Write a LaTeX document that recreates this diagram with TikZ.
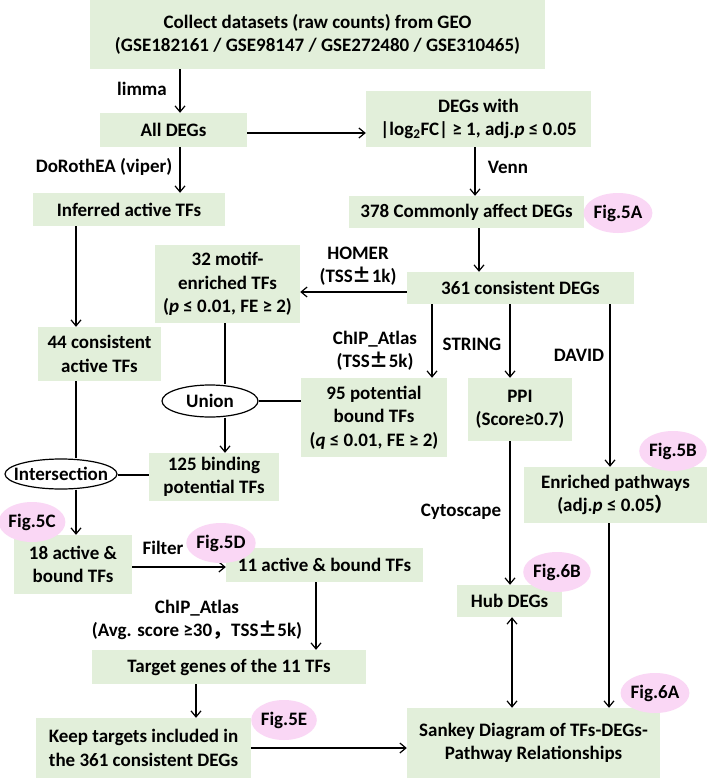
\documentclass[tikz,border=0pt]{standalone}
\usepackage{fontspec}
\setmainfont{Carlito}
\newfontfamily\cjk{Noto Sans CJK SC}
\usetikzlibrary{arrows.meta,shapes.geometric}
\definecolor{boxgreen}{RGB}{226,239,218}
\definecolor{figpink}{RGB}{250,215,245}
\begin{document}
\begin{tikzpicture}[x=1pt,y=-1pt,
  every node/.style={font=\fontsize{19}{23.5}\selectfont\bfseries},
  box/.style={fill=boxgreen, draw=none, align=center, inner sep=0pt},
  oval/.style={ellipse, draw, line width=1.2pt, fill=white, inner sep=0pt},
  fig/.style={ellipse, fill=figpink, inner sep=0pt, minimum width=64pt, minimum height=40pt},
  arr/.style={line width=1.2pt, -{Straight Barb[length=6pt,width=10pt]}},
  dbl/.style={line width=1.2pt, {Straight Barb[length=6pt,width=10pt]}-{Straight Barb[length=6pt,width=10pt]}},
  ln/.style={line width=1.2pt},
  lbl/.style={align=center, inner sep=0pt}]
\useasboundingbox (0,0) rectangle (709,778);
\fill[white] (0,0) rectangle (709,778);

% boxes
\node[box, minimum width=455pt, minimum height=69pt] (top) at (317.5,34.5) {Collect datasets (raw counts) from GEO\\(GSE182161 / GSE98147 / GSE272480 / GSE310465)};
\node[box, minimum width=147pt, minimum height=34pt] (alldegs) at (173.5,130) {All DEGs};
\node[box, minimum width=225pt, minimum height=56pt] (degswith) at (478.5,119) {DEGs with\\\textbar log\textsubscript{2}FC\textbar{} ≥ 1, adj.\textit{p} ≤ 0.05};
\node[box, minimum width=192pt, minimum height=33pt] (inferred) at (129,209.5) {Inferred active TFs};
\node[box, minimum width=235pt, minimum height=32pt] (c378) at (466.5,212) {378 Commonly affect DEGs};
\node[box, minimum width=227pt, minimum height=32pt] (c361) at (520.5,288) {361 consistent DEGs};
\node[box, minimum width=145pt, minimum height=78pt] (motif) at (227.5,284) {32 motif-\\enriched TFs\\(\textit{p} ≤ 0.01, FE ≥ 2)};
\node[box, minimum width=123pt, minimum height=54pt] (c44) at (99.5,354) {44 consistent\\active TFs};
\node[box, minimum width=146pt, minimum height=79pt] (c95) at (374,417.5) {95 potential\\bound TFs\\(\textit{q} ≤ 0.01, FE ≥ 2)};
\node[box, minimum width=104pt, minimum height=63pt] (ppi) at (520,409.5) {PPI\\(Score≥0.7)};
\node[box, minimum width=130pt, minimum height=48pt] (c125) at (214,477) {125 binding\\potential TFs};
\node[box, minimum width=183pt, minimum height=56pt] (enriched) at (615.5,495) {Enriched pathways\\(adj.\textit{p} ≤ 0.05{\cjk ）}};
\node[box, minimum width=118pt, minimum height=59pt] (c18) at (73,564.5) {18 active \&\\bound TFs};
\node[box, minimum width=197pt, minimum height=34pt] (c11) at (324.5,565) {11 active \& bound TFs};
\node[box, minimum width=105pt, minimum height=32pt] (hub) at (509.5,601) {Hub DEGs};
\node[box, minimum width=274pt, minimum height=34pt] (target) at (229,667) {Target genes of the 11 TFs};
\node[box, minimum width=215pt, minimum height=60pt] (keep) at (143.5,748) {Keep targets included in\\the 361 consistent DEGs};
\node[box, minimum width=253pt, minimum height=70pt] (sankey) at (533.5,743) {Sankey Diagram of TFs-DEGs-\\Pathway Relationships};

% ovals
\node[oval, minimum width=96pt, minimum height=32pt, label=center:Union] (union) at (210,401) {};
\node[oval, minimum width=112pt, minimum height=30pt, label=center:Intersection] (inter) at (61,474) {};

% guide coordinates
\coordinate (xa) at (180,0);
\coordinate (xv) at (475,0);
\coordinate (xb) at (479,0);
\coordinate (xi) at (76,0);
\coordinate (xc) at (432,0);
\coordinate (xs) at (510,0);
\coordinate (xd) at (610,0);
\coordinate (xm) at (225,0);
\coordinate (xt) at (316,0);
\coordinate (xk) at (196,0);
\coordinate (xh) at (512,0);
\coordinate (xe) at (609,0);
\coordinate (ya) at (0,133);
\coordinate (yh) at (0,292);
\coordinate (yn) at (0,475);
\coordinate (yf) at (0,567);
\coordinate (yk) at (0,748);

% connectors
\draw[arr] (xa |- top.south) -- (xa |- alldegs.north);
\draw[arr] (xa |- alldegs.south) -- (xa |- inferred.north);
\draw[arr] (alldegs.east |- ya) -- (degswith.west |- ya);
\draw[arr] (xv |- degswith.south) -- (xv |- c378.north);
\draw[arr] (xb |- c378.south) -- (xb |- c361.north);
\draw[arr] (c361.west |- yh) -- (motif.east |- yh);
\draw[arr] (xi |- inferred.south) -- (xi |- c44.north);
\draw[arr] (xc |- c361.south) -- (xc |- c95.north);
\draw[arr] (xs |- c361.south) -- (xs |- ppi.north);
\draw[arr] (xd |- c361.south) -- (xd |- enriched.north);
\draw[ln] (xm |- motif.south) -- (xm |- union.north);
\draw[ln] (union.east) -- (c95.west |- union.east);
\draw[arr] (xm |- union.south) -- (xm |- c125.north);
\draw[ln] (xi |- c44.south) -- (xi |- inter.north);
\draw[ln] (inter.east |- yn) -- (c125.west |- yn);
\draw[arr] (xi |- inter.south) -- (xi |- c18.north);
\draw[arr] (c18.east |- yf) -- (c11.west |- yf);
\draw[arr] (xs |- ppi.south) -- (xs |- hub.north);
\draw[arr] (xt |- c11.south) -- (xt |- target.north);
\draw[arr] (xk |- target.south) -- (xk |- keep.north);
\draw[arr] (keep.east |- yk) -- (sankey.west |- yk);
\draw[dbl] (xh |- hub.south) -- (xh |- sankey.north);
\draw[arr] (xe |- enriched.south) -- (xe |- sankey.north);

% connector labels
\node[lbl] (llimma) at (142,89) {limma};
\node[lbl] (ldoro) at (104,167) {DoRothEA (viper)};
\node[lbl] (lvenn) at (508,167) {Venn};
\node[lbl] (lhomer) at (358,266) {HOMER\\(TSS{\cjk ±}1k)};
\node[lbl] (lchip) at (375,351) {ChIP\_Atlas\\(TSS{\cjk ±}5k)};
\node[lbl] (lstring) at (472,344) {STRING};
\node[lbl] (ldavid) at (579,355) {DAVID};
\node[lbl] (lfilter) at (163,548) {Filter};
\node[lbl] (lcyto) at (461,512) {Cytoscape};
\node[lbl] (lchip2) at (197,620) {ChIP\_Atlas\\(Avg. score ≥30{\cjk ，}TSS{\cjk ±}5k)};

% figure tags
\node[fig] (f5a) at (618,213) {Fig.5A};
\node[fig] (f5b) at (673,451) {Fig.5B};
\node[fig] (f5c) at (32,522) {Fig.5C};
\node[fig] (f5d) at (221,543) {Fig.5D};
\node[fig] (f6b) at (557,572) {Fig.6B};
\node[fig] (f5e) at (284,720) {Fig.5E};
\node[fig] (f6a) at (655,693) {Fig.6A};
\end{tikzpicture}
\end{document}
